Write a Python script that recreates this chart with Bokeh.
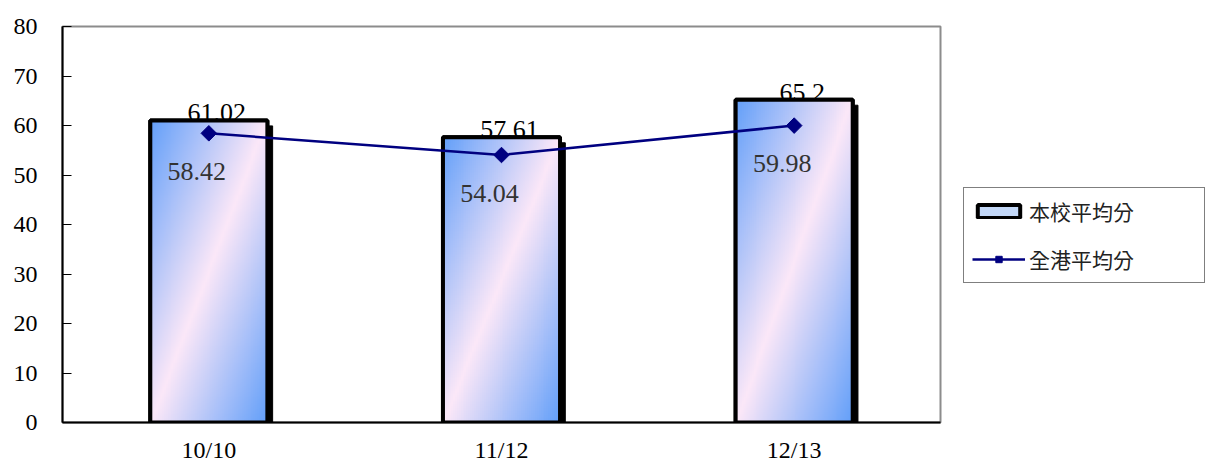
import numpy as np
from bokeh.plotting import figure
from bokeh.models import (ColumnDataSource, Range1d, FixedTicker, Legend, LegendItem)
from bokeh.core.properties import value
from bokeh.embed import file_html
from bokeh.resources import INLINE

categories = ["10/10", "11/12", "12/13"]
school_avg = [61.02, 57.61, 65.2]
hk_avg = [58.42, 54.04, 59.98]
school_labels = ["61.02", "57.61", "65.2"]
hk_labels = ["58.42", "54.04", "59.98"]
y_ticks = [0, 10, 20, 30, 40, 50, 60, 70, 80]

xs = [i + 0.5 for i in range(len(categories))]
BAR_W = 0.4

src = ColumnDataSource(dict(
    x=xs, cat=categories, school=school_avg, hk=hk_avg,
    school_lbl=school_labels, hk_lbl=hk_labels,
    sx=[x + 0.018 for x in xs], stop=[v - 1.1 for v in school_avg],
    imx=[x - BAR_W / 2 for x in xs], imy=[0] * len(xs), imdw=[BAR_W] * len(xs),
))

p = figure(frame_width=878, frame_height=396, output_backend="svg", toolbar_location=None,
           x_range=Range1d(0, 3), y_range=Range1d(0, 80),
           min_border_left=62, min_border_top=26, min_border_bottom=40, min_border_right=2)
p.grid.visible = False
p.outline_line_color = "#8c8c8c"
p.outline_line_width = 2
p.background_fill_color = "white"
p.border_fill_color = "white"

# shadow
p.vbar(x="sx", top="stop", width=BAR_W, source=src, fill_color="black", line_color="black")
# base filled bar (used for legend)
bar_r = p.vbar(x="x", top="school", width=BAR_W, source=src, fill_color="#c3d8f8",
               line_color="black", line_width=4)

# gradient images
def grad_img(nr=160, nc=60):
    blue = np.array([100, 160, 250], dtype=float)
    pink = np.array([252, 232, 248], dtype=float)
    cols = np.linspace(0, 1, nc)[None, :]
    rows_top = 1 - np.linspace(0, 1, nr)[:, None]  # row 0 at bottom
    t = (cols + rows_top) / 2.0
    w = 1 - np.abs(2 * t - 1)
    rgb = blue[None, None, :] + (pink - blue)[None, None, :] * w[:, :, None]
    img = np.empty((nr, nc), dtype=np.uint32)
    view = img.view(dtype=np.uint8).reshape((nr, nc, 4))
    view[:, :, 0:3] = rgb.astype(np.uint8)
    view[:, :, 3] = 255
    return img

src.data["img"] = [grad_img() for _ in xs]
p.image_rgba(image="img", x="imx", y="imy", dw="imdw", dh="school", source=src)

# bar value labels
p.text(x="x", y="school", text="school_lbl", source=src, text_align="center",
       text_baseline="bottom", x_offset=8, y_offset=1,
       text_font=value("Liberation Serif"), text_font_size="26px", text_color="black")

# outline on top
p.vbar(x="x", top="school", width=BAR_W, source=src, fill_color=None,
       line_color="black", line_width=4)

# line series
line_r = p.line(x="x", y="hk", source=src, line_color="#000080", line_width=2.5)
pt_r = p.scatter(x="x", y="hk", source=src, marker="square", angle=np.pi / 4, size=11,
                 fill_color="#000080", line_color="#000080")
p.text(x="x", y="hk", text="hk_lbl", source=src, text_align="center",
       text_baseline="middle", x_offset=-12, y_offset=38,
       text_font=value("Liberation Serif"), text_font_size="26px", text_color="#333333")

# axes
p.yaxis.ticker = FixedTicker(ticks=y_ticks)
p.yaxis.major_tick_in = 9
p.yaxis.major_tick_out = 0
p.yaxis.minor_tick_line_color = None
p.yaxis.axis_line_width = 2
p.yaxis.major_tick_line_width = 1
p.yaxis.major_label_standoff = 25
p.yaxis.major_label_text_font = "Liberation Serif"
p.yaxis.major_label_text_font_size = "24px"
p.yaxis.major_label_text_color = "black"

p.xaxis.ticker = FixedTicker(ticks=xs)
p.xaxis.major_label_overrides = {x: c for x, c in zip(xs, categories)}
p.xaxis.major_tick_line_color = None
p.xaxis.minor_tick_line_color = None
p.xaxis.axis_line_width = 2
p.xaxis.major_label_standoff = 8
p.xaxis.major_label_text_font = "Liberation Serif"
p.xaxis.major_label_text_font_size = "24px"
p.xaxis.major_label_text_color = "black"

legend = Legend(items=[LegendItem(label="本校平均分", renderers=[bar_r]),
                       LegendItem(label="全港平均分", renderers=[line_r, pt_r])],
                location=(23, 139), orientation="vertical")
legend.border_line_color = "black"
legend.border_line_width = 1
legend.background_fill_color = "white"
legend.label_text_font = "Noto Sans CJK TC"
legend.label_text_font_size = "21px"
legend.label_text_color = "#222222"
legend.glyph_width = 53
legend.glyph_height = 16
legend.label_standoff = 4
legend.label_height = 20
legend.label_width = 167
legend.spacing = 18
legend.padding = 8
legend.margin = 0
p.add_layout(legend, "right")

open("out.html", "w").write(file_html(p, INLINE))
